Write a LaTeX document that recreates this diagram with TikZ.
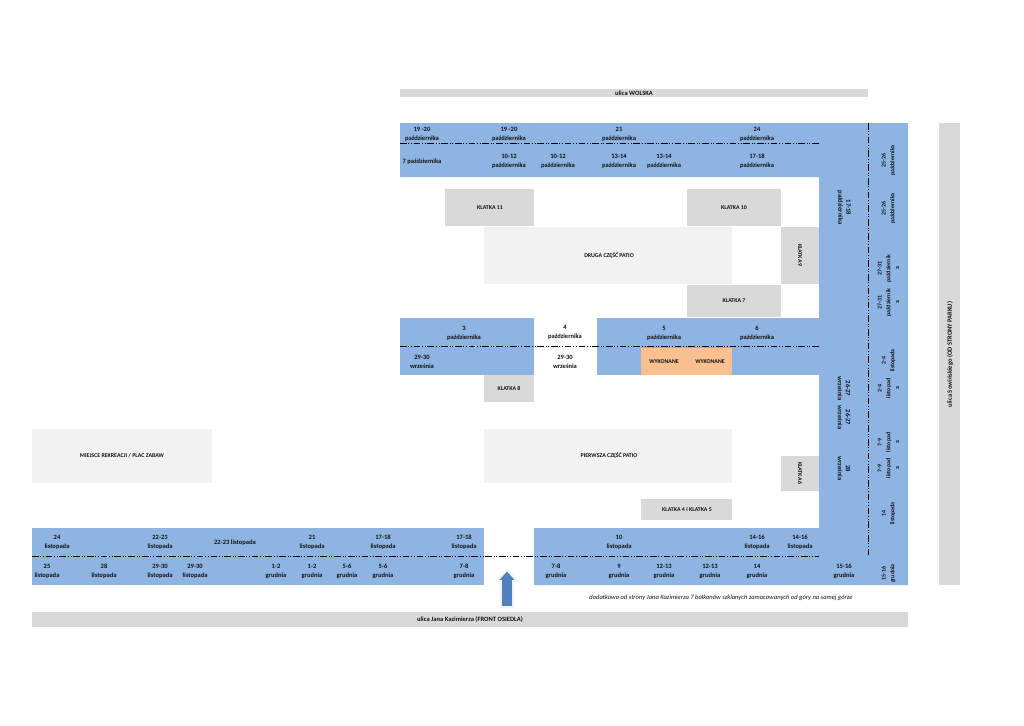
\documentclass[tikz,border=0pt]{standalone}
\usepackage{fontspec}
\setmainfont{Carlito}
\usetikzlibrary{calc}
\definecolor{balcony}{HTML}{8DB4E2}
\definecolor{road}{HTML}{D9D9D9}
\definecolor{patio}{HTML}{F2F2F2}
\definecolor{done}{HTML}{FAC090}
\definecolor{arrowblue}{HTML}{4F81BD}
\definecolor{ink}{HTML}{111111}

\begin{document}
\begin{tikzpicture}[x=0.75pt,y=-0.75pt,
        t/.style={text=ink,font=\fontsize{4.9}{6.9}\selectfont\bfseries,align=center,inner sep=0pt,yshift=-0.4pt},
        g/.style={t,font=\fontsize{4.4}{6.5}\selectfont\bfseries},
        tr/.style={t,rotate=-90,font=\fontsize{4.9}{6}\selectfont\bfseries},
        tl/.style={t,rotate=90,font=\fontsize{4.4}{6.5}\selectfont\bfseries},
        sep/.style={black,line width=0.7pt,dash pattern=on 5pt off 1.3pt on 0.7pt off 1.3pt on 0.7pt off 1.3pt}]
        \useasboundingbox (0,0) rectangle (1024,725);
        % roads
        \fill[road] (400,89) rectangle (868,97);
        \fill[road] (32,612) rectangle (908,627);
        \fill[road] (939,123) rectangle (960,585);
        % balconies
        \fill[balcony] (400,123) -| (908,585) -| (534,528) -| (819,177) -| (400,123) -- cycle;
        \fill[balcony] (32,528) rectangle (484,585);
        \fill[balcony] (400,318) rectangle (534,375);
        \fill[balcony] (597,318) rectangle (819,375);
        \fill[done] (641,348) rectangle (732,375);
        % stairwells and patios
        \fill[road] (445,189) rectangle (534,226);
        \fill[road] (687,189) rectangle (781,226);
        \fill[road] (781,227) rectangle (819,284);
        \fill[road] (687,285) rectangle (781,317);
        \fill[road] (484,375) rectangle (534,402);
        \fill[road] (781,456) rectangle (819,491);
        \fill[road] (641,499) rectangle (732,520);
        \fill[patio] (484,227) rectangle (732,284);
        \fill[patio] (484,429) rectangle (732,483);
        \fill[patio] (32,429) rectangle (212,483);
        % entrance
        \filldraw[arrowblue,draw=patio,line width=1.4pt] (507,570) -- (517,581) -- (513,581) -- (513,607) -- (501,607) -- (501,581) -- (497,581) -- cycle;
        % separators
        \coordinate (topl) at (400,143);
        \coordinate (topr) at (819,143);
        \coordinate (midl) at (400,346);
        \coordinate (midr) at (819,346);
        \coordinate (botl) at (32,556);
        \coordinate (botr) at (819,556);
        \coordinate (vert) at (868,123);
        \coordinate (vers) at (868,557);
        \draw[sep] (topl)--(topr);
        \draw[sep] (midl)--(midr);
        \draw[sep] (botl)--(botr);
        \draw[sep] (vert)--(vers);
        % labels on grey
        \node[t] (wolska) at (634,93) {ulica WOLSKA};
        \node[t] (kazimierza) at (470,619) {ulica Jana Kazimierza (FRONT OSIEDLA)};
        \node[tl,font=\fontsize{4.9}{6}\selectfont\bfseries] (sowinskiego) at (950,354) {ulica Sowińskiego (OD STRONY PARKU)};
        \node[g] (k11) at (490,207) {KLATKA 11};
        \node[g] (k10) at (734,207) {KLATKA 10};
        \node[g,rotate=-90] (k9) at (800,255) {KLATKA 9};
        \node[g] (k7) at (734,300) {KLATKA 7};
        \node[g] (k8) at (509,388) {KLATKA 8};
        \node[g,rotate=-90] (k6) at (800,473) {KLATKA 6};
        \node[g] (k45) at (687,509) {KLATKA 4 i KLATKA 5};
        \node[g] (druga) at (609,255) {DRUGA CZĘŚĆ PATIO};
        \node[g] (pierwsza) at (609,455) {PIERWSZA CZĘŚĆ PATIO};
        \node[g] (plac) at (122,455) {MIEJSCE REKREACJI / PLAC ZABAW};
        \node[g] (wyk1) at (664,361) {WYKONANE};
        \node[g] (wyk2) at (710,361) {WYKONANE};
        % dates
        \foreach \px/\py/\d in {422/134/19 -20,509/134/19 -20,619/134/21,757/134/24,
            509/161/10-12,558/161/10-12,619/161/13-14,664/161/13-14,757/161/17-18,
            464/333/3,565/332/4,664/333/5,757/333/6}
          \node[t] (oct\px-\py) at (\px,\py) {\d\\października};
        \node[t] (oct7) at (422,161) {7 października};
        \foreach \px/\py/\d in {422/361/29-30,565/361/29-30}
          \node[t] (sep\px) at (\px,\py) {\d\\września};
        \foreach \px/\py/\d in {57/542/24,160/542/22-23,312/542/21,383/542/17-18,464/542/17-18,
            619/542/10,757/542/14-16,800/542/14-16,47/571/25,104/571/28,160/571/29-30,195/571/29-30}
          \node[t] (nov\px-\py) at (\px,\py) {\d\\listopada};
        \node[t] (nov2223) at (235,542) {22-23 listopada};
        \foreach \px/\d in {276/1-2,312/1-2,347/5-6,383/5-6,464/7-8,556/7-8,619/9,
            664/12-13,710/12-13,757/14,844/15-16}
          \node[t] (dec\px) at (\px,571) {\d\\grudnia};
        % right strip
        \node[tr] (oct1718) at (844,207) {17-18\\października};
        \foreach \py/\d in {388/26-27,417/26-27,468/28}
          \node[tr] (sep\py) at (844,\py) {\d\\września};
        \foreach \py in {160,208}
          \node[tl] (oct\py) at (888.5,\py) {25-26\\października};
        \foreach \py in {268,302}
          \node[tl] (oct\py) at (888.5,\py) {27-31\\październik\\a};
        \foreach \py/\d in {388/2-4,442/7-9,468/7-9}
          \node[tl] (nov\py) at (888.5,\py) {\d\\listopad\\a};
        \foreach \py/\d in {360/2-4,513/14}
          \node[tl] (nov\py) at (888.5,\py) {\d\\listopada};
        \node[tl] (dec1516) at (888.5,573) {15-16\\grudnia};
        % note
        \node[t,font=\fontsize{4.9}{7.3}\selectfont\itshape] (note) at (721,597) {dodatkowo od strony Jana Kazimierza 7 balkonów szklanych zamocowanych od góry na samej górze};
      \end{tikzpicture}
\end{document}
